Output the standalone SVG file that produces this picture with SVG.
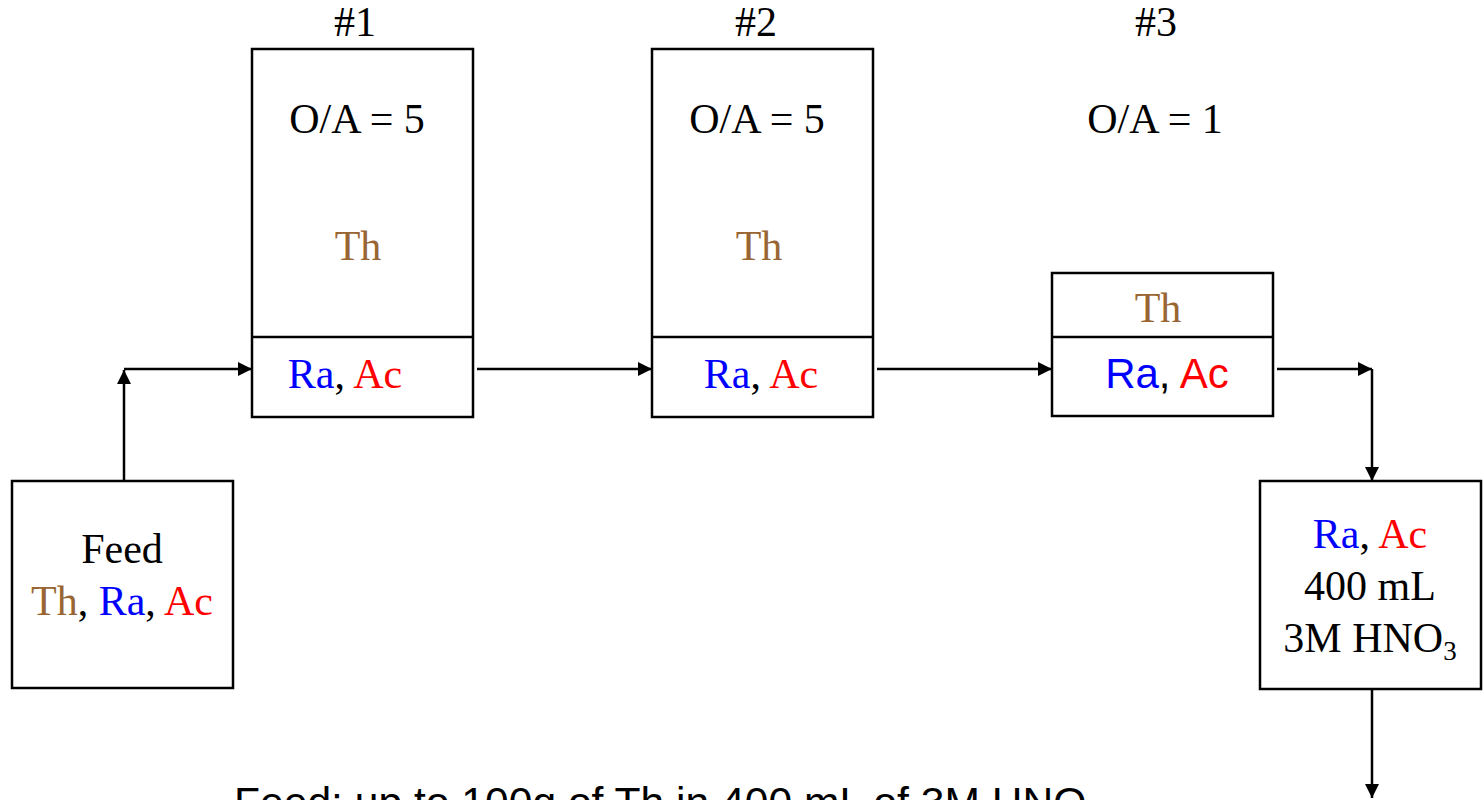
<svg xmlns="http://www.w3.org/2000/svg" width="1484" height="800" viewBox="0 0 1484 800">
  <style>
    .box { fill: #ffffff; stroke: #000000; stroke-width: 2.5; }
    .div { stroke: #000000; stroke-width: 2.5; }
    .t { font-family: "Liberation Serif", "Times New Roman", serif; font-size: 42px; fill: #000000; text-anchor: middle; }
    .s { font-family: "Liberation Sans", Arial, sans-serif; font-size: 42px; fill: #000000; text-anchor: middle; }
    .th { fill: #996633; }
    .ra { fill: #0000ff; }
    .ac { fill: #ff0000; }
    .flow { fill: none; stroke: #000000; stroke-width: 2.5; }
  </style>
  <defs>
    <marker id="arrow" viewBox="0 0 10 10" refX="10" refY="5" markerWidth="14" markerHeight="14" markerUnits="userSpaceOnUse" orient="auto">
      <path d="M0,0 L10,5 L0,10 Z" fill="#000000"/>
    </marker>
  </defs>

  <rect width="1484" height="800" fill="#ffffff"/>

  <!-- stage labels -->
  <g id="labels">
    <text class="t" x="355" y="36">#1</text>
    <text class="t" x="756" y="36">#2</text>
    <text class="t" x="1156" y="36">#3</text>
    <text class="t" x="1155" y="133">O/A = 1</text>
  </g>

  <!-- stage 1 -->
  <g id="stage1">
    <rect class="box" x="252" y="49" width="221" height="368"/>
    <line class="div" x1="252" y1="337" x2="473" y2="337"/>
    <text class="t" x="357" y="133">O/A = 5</text>
    <text class="t th" x="358" y="260">Th</text>
    <text class="t" x="345" y="388"><tspan class="ra">Ra</tspan>, <tspan class="ac">Ac</tspan></text>
  </g>

  <!-- stage 2 -->
  <g id="stage2">
    <rect class="box" x="652" y="49" width="221" height="368"/>
    <line class="div" x1="652" y1="337" x2="873" y2="337"/>
    <text class="t" x="757" y="133">O/A = 5</text>
    <text class="t th" x="759" y="260">Th</text>
    <text class="t" x="761" y="388"><tspan class="ra">Ra</tspan>, <tspan class="ac">Ac</tspan></text>
  </g>

  <!-- stage 3 -->
  <g id="stage3">
    <rect class="box" x="1052" y="273" width="221" height="143"/>
    <line class="div" x1="1052" y1="337" x2="1273" y2="337"/>
    <text class="t th" x="1158" y="322">Th</text>
    <text class="s" x="1167" y="388"><tspan class="ra">Ra</tspan>, <tspan class="ac">Ac</tspan></text>
  </g>

  <!-- feed -->
  <g id="feed">
    <rect class="box" x="12" y="481" width="221" height="207"/>
    <text class="t" x="122" y="563">Feed</text>
    <text class="t" x="122" y="615"><tspan class="th">Th</tspan>, <tspan class="ra">Ra</tspan>, <tspan class="ac">Ac</tspan></text>
  </g>

  <!-- product -->
  <g id="product">
    <rect class="box" x="1260" y="481" width="221" height="208"/>
    <text class="t" x="1370" y="548"><tspan class="ra">Ra</tspan>, <tspan class="ac">Ac</tspan></text>
    <text class="t" x="1370" y="600">400 mL</text>
    <text class="t" x="1370" y="652">3M HNO<tspan font-size="27" dy="8">3</tspan></text>
  </g>

  <!-- flows -->
  <g id="connectors">
    <line class="flow" x1="124" y1="481" x2="124" y2="370" marker-end="url(#arrow)"/>
    <line class="flow" x1="124" y1="369" x2="252" y2="369" marker-end="url(#arrow)"/>
    <line class="flow" x1="477" y1="369" x2="652" y2="369" marker-end="url(#arrow)"/>
    <line class="flow" x1="877" y1="369" x2="1052" y2="369" marker-end="url(#arrow)"/>
    <line class="flow" x1="1277" y1="369" x2="1372" y2="369" marker-end="url(#arrow)"/>
    <line class="flow" x1="1372" y1="369" x2="1372" y2="481" marker-end="url(#arrow)"/>
    <line class="flow" x1="1372" y1="689" x2="1372" y2="798" marker-end="url(#arrow)"/>
  </g>

  <!-- footnote, running past the bottom edge -->
  <text id="note" x="234" y="817" font-family="Liberation Sans, Arial, sans-serif" font-size="42.6" fill="#000000">Feed: up to 100g of Th in 400 mL of 3M HNO<tspan font-size="28" dy="9">3</tspan></text>
</svg>
